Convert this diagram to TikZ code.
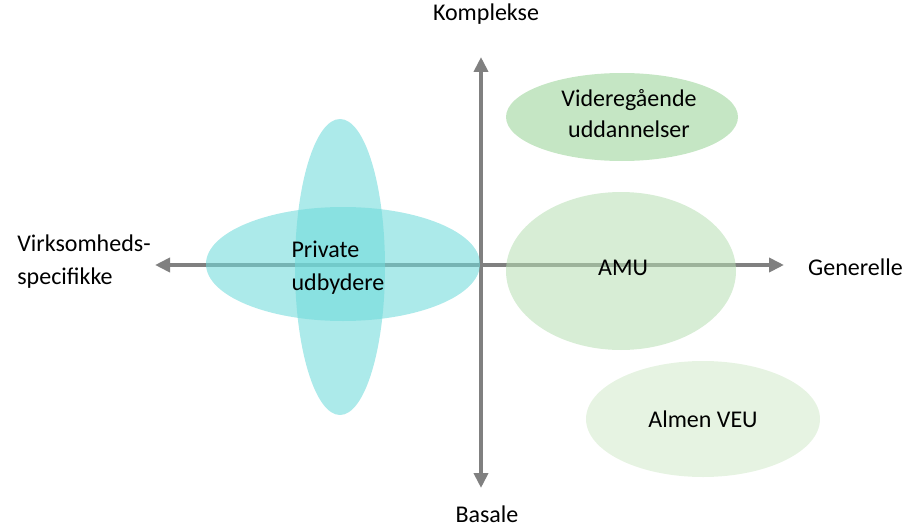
\documentclass[tikz,border=0pt]{standalone}
\usepackage{fontspec}
\setmainfont{Carlito}
\usetikzlibrary{arrows.meta}
\definecolor{axisgray}{RGB}{128,128,128}
\definecolor{privcyan}{RGB}{112,218,218}
\definecolor{greenA}{RGB}{150,210,148}
\definecolor{greenB}{RGB}{182,222,178}
\definecolor{greenC}{RGB}{210,234,202}
\begin{document}
\begin{tikzpicture}[x=1pt,y=-1pt,
  axis/.style={draw=axisgray,line width=4pt,-{Triangle[length=15pt,width=14pt]}},
  lbl/.style={font=\fontsize{24}{33}\selectfont,inner sep=0pt,text=black},
  lblb/.style={font=\fontsize{24}{31}\selectfont,inner sep=0pt,text=black}]
\useasboundingbox (0,0) rectangle (921,527);

% axes
\coordinate (o) at (481,265);
\coordinate (top) at (481,57);
\coordinate (bot) at (481,488);
\coordinate (left) at (155,265);
\coordinate (right) at (784,265);
\draw[axis] (o) -- (top);
\draw[axis] (o) -- (bot);
\draw[axis] (o) -- (left);
\draw[axis] (o) -- (right);

% translucent areas
\fill[privcyan,fill opacity=0.58] (340,267) ellipse [x radius=45,y radius=148];
\fill[privcyan,fill opacity=0.58] (343,264) ellipse [x radius=137,y radius=57];
\fill[greenA,fill opacity=0.55] (622,117) ellipse [x radius=116,y radius=44];
\fill[greenB,fill opacity=0.55] (621,271) ellipse [x radius=115,y radius=79];
\fill[greenC,fill opacity=0.55] (703,419) ellipse [x radius=117,y radius=58];

% labels
\node[lbl,anchor=base] (komp) at (486,21) {Komplekse};
\node[lbl,anchor=base] (bas) at (487,522) {Basale};
\node[lbl,anchor=base west] (gen) at (808,275) {Generelle};
\node[lbl,anchor=center,align=left] (virk) at (84,262) {Virksomheds-\\specifikke};
\node[lbl,anchor=center,align=left] (priv) at (338,268) {Private\\udbydere};
\node[lblb,anchor=center,align=center] (vid) at (629,114) {Videregående\\uddannelser};
\node[lbl,anchor=base] (amu) at (623,275) {AMU};
\node[lbl,anchor=base] (veu) at (703,427) {Almen VEU};
\end{tikzpicture}
\end{document}
